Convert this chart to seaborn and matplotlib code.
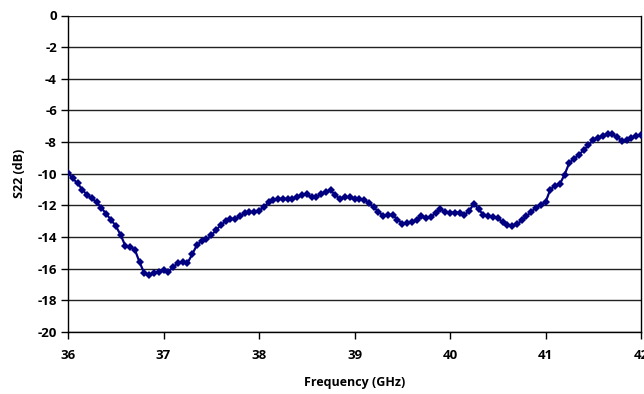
import numpy as np
import pandas as pd
import matplotlib
matplotlib.use("Agg")
import matplotlib.pyplot as plt
import seaborn as sns

freq = [36.00, 36.05, 36.10, 36.15, 36.20, 36.25, 36.30, 36.35, 36.40, 36.45,
        36.50, 36.55, 36.60, 36.65, 36.70, 36.75, 36.80, 36.85, 36.90, 36.95,
        37.00, 37.05, 37.10, 37.15, 37.20, 37.25, 37.30, 37.35, 37.40, 37.45,
        37.50, 37.55, 37.60, 37.65, 37.70, 37.75, 37.80, 37.85, 37.90, 37.95,
        38.00, 38.05, 38.10, 38.15, 38.20, 38.25, 38.30, 38.35, 38.40, 38.45,
        38.50, 38.55, 38.60, 38.65, 38.70, 38.75, 38.80, 38.85, 38.90, 38.95,
        39.00, 39.05, 39.10, 39.15, 39.20, 39.25, 39.30, 39.35, 39.40, 39.45,
        39.50, 39.55, 39.60, 39.65, 39.70, 39.75, 39.80, 39.85, 39.90, 39.95,
        40.00, 40.05, 40.10, 40.15, 40.20, 40.25, 40.30, 40.35, 40.40, 40.45,
        40.50, 40.55, 40.60, 40.65, 40.70, 40.75, 40.80, 40.85, 40.90, 40.95,
        41.00, 41.05, 41.10, 41.15, 41.20, 41.25, 41.30, 41.35, 41.40, 41.45,
        41.50, 41.55, 41.60, 41.65, 41.70, 41.75, 41.80, 41.85, 41.90, 41.95,
        42.00]

s22 = [-9.95, -10.3, -10.6, -11.0, -11.35, -11.55, -11.8, -12.15, -12.55, -12.9,
       -13.3, -13.85, -14.55, -14.6, -14.8, -15.6, -16.3, -16.4, -16.3, -16.2,
       -16.1, -16.2, -15.9, -15.65, -15.6, -15.65, -15.1, -14.5, -14.25, -14.15,
       -13.9, -13.55, -13.25, -13.0, -12.85, -12.85, -12.7, -12.5, -12.42, -12.42,
       -12.35, -12.1, -11.8, -11.65, -11.6, -11.58, -11.6, -11.6, -11.45, -11.35,
       -11.3, -11.5, -11.45, -11.3, -11.15, -11.05, -11.35, -11.6, -11.45, -11.5,
       -11.6, -11.6, -11.65, -11.85, -12.1, -12.4, -12.65, -12.6, -12.6, -12.9,
       -13.15, -13.1, -13.05, -12.95, -12.65, -12.8, -12.75, -12.45, -12.25, -12.4,
       -12.45, -12.45, -12.45, -12.6, -12.35, -11.9, -12.25, -12.6, -12.65, -12.72,
       -12.8, -13.05, -13.25, -13.3, -13.2, -12.95, -12.7, -12.4, -12.15, -11.95,
       -11.8, -11.0, -10.75, -10.65, -10.05, -9.3, -9.05, -8.8, -8.5, -8.2,
       -7.85, -7.72, -7.6, -7.48, -7.5, -7.7, -7.9, -7.85, -7.72, -7.6,
       -7.55]

x_ticks = [36, 37, 38, 39, 40, 41, 42]
y_ticks = [0, -2, -4, -6, -8, -10, -12, -14, -16, -18, -20]

sns.set_theme(style="white")
plt.rcParams['font.family'] = ['Open Sans', 'DejaVu Sans']

df = pd.DataFrame({"Frequency (GHz)": freq, "S22 (dB)": s22})

fig = plt.figure(figsize=(6.44, 3.94), dpi=100)
ax = fig.add_axes([68/644, 1 - 332/394, (641 - 68)/644, (332 - 15.5)/394])

sns.lineplot(data=df, x="Frequency (GHz)", y="S22 (dB)", ax=ax,
             color="#000080", linewidth=1.6, marker="D", markersize=4.0,
             markeredgewidth=0, zorder=3)

ax.set_xlim(36, 42)
ax.set_ylim(-20, 0)
ax.set_xticks(x_ticks)
ax.set_yticks(y_ticks)
ax.set_xticklabels([str(t) for t in x_ticks], fontsize=9.5, fontweight="bold", color="black")
ax.set_yticklabels([str(t) for t in y_ticks], fontsize=9.5, fontweight="bold", color="black")
ax.yaxis.grid(True, color="#222222", linewidth=1.0)
ax.xaxis.grid(False)
ax.set_axisbelow(True)
ax.tick_params(axis="x", direction="out", length=5, width=1, color="black",
               pad=7, bottom=True)
ax.tick_params(axis="y", direction="out", length=5, width=1, color="black",
               pad=3, left=True)
for side in ["left", "bottom", "right"]:
    ax.spines[side].set_color("black")
    ax.spines[side].set_linewidth(1.0)
ax.spines["top"].set_visible(False)
ax.set_xlabel("Frequency (GHz)", fontsize=9, fontweight="bold", labelpad=10, color="black")
ax.set_ylabel("S22 (dB)", fontsize=9, fontweight="bold", labelpad=8, color="black")

fig.savefig("out.png", dpi=100)
